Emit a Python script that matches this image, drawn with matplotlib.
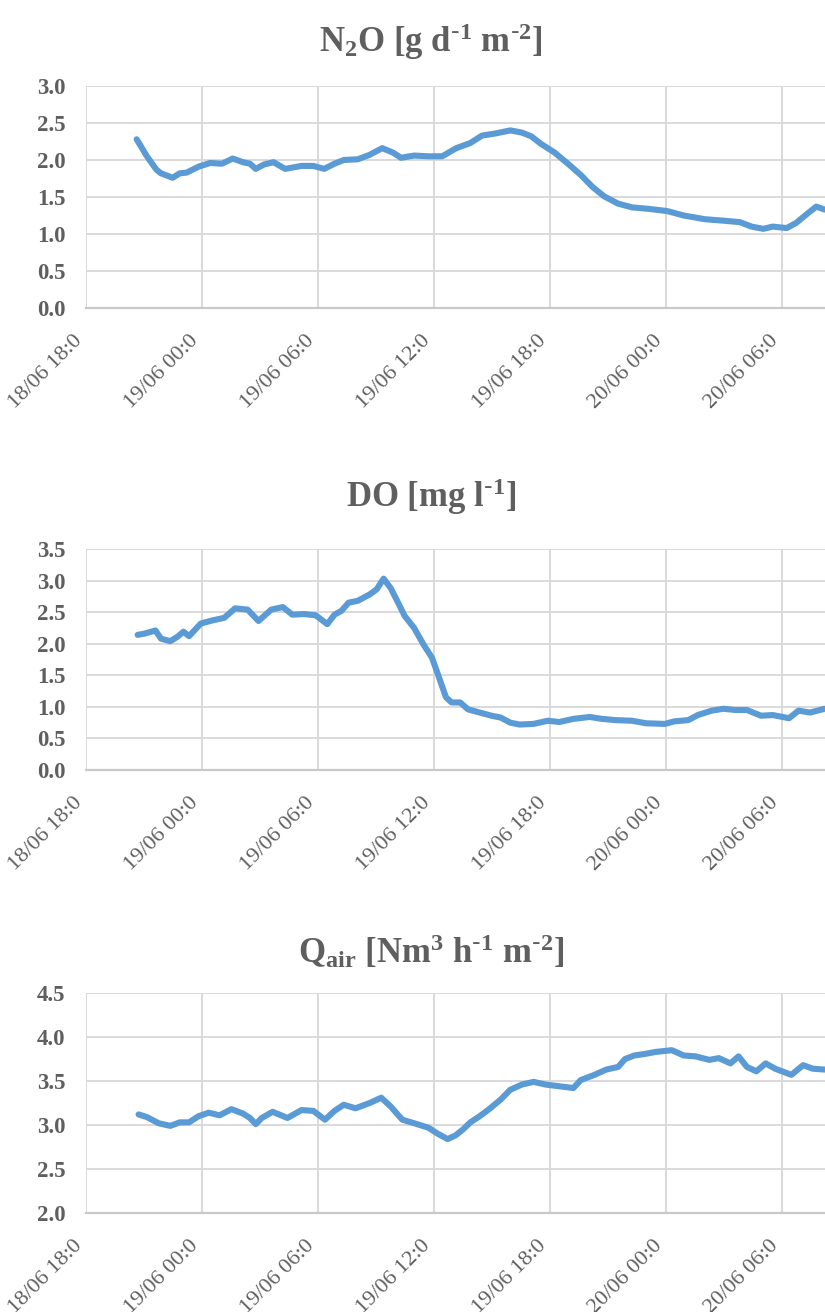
import numpy as np
import matplotlib
matplotlib.use("Agg")
import matplotlib.pyplot as plt

plt.rcParams["font.family"] = ["Liberation Serif", "DejaVu Serif"]
plt.rcParams["mathtext.default"] = "regular"

# hours after 18/06 18:00
x_labels = ["18/06 18:0", "19/06 00:0", "19/06 06:0", "19/06 12:0",
            "19/06 18:0", "20/06 00:0", "20/06 06:0"]

n2o_hours = [2.62, 3.15, 3.64, 3.88, 4.48, 4.85, 5.21, 5.82, 6.42, 7.03, 7.59, 8.12,
             8.48, 8.78, 9.21, 9.70, 10.30, 11.15, 11.76, 12.32, 12.85, 13.33, 14.06,
             14.67, 15.32, 15.88, 16.29, 16.97, 17.70, 18.42, 19.15, 19.88, 20.48,
             21.21, 21.94, 22.55, 23.03, 23.52, 24.24, 24.97, 25.58, 26.18, 26.79,
             27.52, 28.24, 29.09, 30.06, 30.91, 32.00, 32.97, 33.82, 34.42, 35.03,
             35.52, 36.24, 36.73, 37.33, 37.77, 38.20]
n2o_vals = [2.28, 2.05, 1.87, 1.82, 1.76, 1.82, 1.83, 1.91, 1.96, 1.95, 2.02, 1.97,
            1.95, 1.88, 1.94, 1.97, 1.88, 1.92, 1.92, 1.88, 1.95, 2.00, 2.01,
            2.07, 2.16, 2.10, 2.03, 2.06, 2.05, 2.05, 2.16, 2.23, 2.33,
            2.36, 2.40, 2.37, 2.32, 2.22, 2.10, 1.94, 1.80, 1.64, 1.51,
            1.41, 1.36, 1.34, 1.31, 1.25, 1.20, 1.18, 1.16, 1.10, 1.07,
            1.10, 1.08, 1.15, 1.28, 1.37, 1.33]

do_hours = [2.67, 3.03, 3.59, 3.88, 4.36, 4.73, 5.04, 5.33, 5.94, 6.55, 7.15, 7.71,
            8.36, 8.92, 9.58, 10.18, 10.67, 11.27, 11.88, 12.48, 12.85, 13.21, 13.58,
            14.06, 14.67, 15.03, 15.39, 15.76, 16.19, 16.48, 16.97, 17.45, 17.89,
            18.23, 18.62, 18.91, 19.35, 19.76, 20.36, 20.97, 21.45, 21.94, 22.42,
            23.15, 23.88, 24.48, 25.21, 26.06, 26.67, 27.39, 28.24, 28.97, 29.94,
            30.42, 31.15, 31.64, 32.36, 32.97, 33.58, 34.18, 34.91, 35.52, 36.36,
            36.85, 37.45, 38.20]
do_vals = [2.14, 2.16, 2.21, 2.08, 2.04, 2.11, 2.19, 2.12, 2.32, 2.37, 2.41, 2.56,
           2.54, 2.36, 2.54, 2.58, 2.46, 2.47, 2.45, 2.31, 2.46, 2.52, 2.65,
           2.68, 2.78, 2.86, 3.03, 2.88, 2.62, 2.44, 2.25, 1.99, 1.78,
           1.49, 1.15, 1.07, 1.07, 0.96, 0.91, 0.86, 0.83, 0.75, 0.72,
           0.73, 0.78, 0.76, 0.81, 0.84, 0.81, 0.79, 0.78, 0.74, 0.73,
           0.77, 0.79, 0.87, 0.94, 0.97, 0.95, 0.95, 0.86, 0.87, 0.82,
           0.94, 0.91, 0.97]

qair_hours = [2.72, 3.15, 3.76, 4.36, 4.85, 5.33, 5.82, 6.35, 6.91, 7.52, 8.12, 8.48,
              8.78, 9.09, 9.65, 10.42, 11.15, 11.76, 12.36, 12.85, 13.33, 13.94, 14.67,
              15.27, 15.76, 16.36, 16.97, 17.70, 18.20, 18.70, 19.10, 19.50, 19.88,
              20.36, 20.85, 21.45, 21.94, 22.55, 23.15, 23.76, 24.48, 25.21, 25.58,
              26.30, 26.91, 27.52, 27.88, 28.36, 28.97, 29.45, 30.30, 30.91, 31.52,
              32.24, 32.73, 33.33, 33.75, 34.18, 34.67, 35.15, 35.64, 36.48, 37.09,
              37.58, 38.20]
qair_vals = [3.12, 3.09, 3.02, 2.99, 3.03, 3.03, 3.10, 3.14, 3.11, 3.18, 3.13, 3.08,
             3.01, 3.08, 3.15, 3.08, 3.17, 3.16, 3.06, 3.16, 3.23, 3.19, 3.25,
             3.31, 3.21, 3.06, 3.02, 2.97, 2.90, 2.84, 2.88, 2.95, 3.03,
             3.10, 3.18, 3.29, 3.40, 3.46, 3.49, 3.46, 3.44, 3.42, 3.51,
             3.57, 3.63, 3.66, 3.75, 3.79, 3.81, 3.83, 3.85, 3.79, 3.78,
             3.74, 3.76, 3.70, 3.78, 3.66, 3.61, 3.70, 3.64, 3.57, 3.68,
             3.64, 3.63]

panels = [
    (r"N$_2$O [g d$^{\text{-}1}$ m$^{\text{-}2}$]", n2o_hours, n2o_vals, 0.0, 3.0),
    (r"DO [mg l$^{\text{-}1}$]", do_hours, do_vals, 0.0, 3.5),
    (r"Q$_{air}$ [Nm$^3$ h$^{\text{-}1}$ m$^{\text{-}2}$]", qair_hours, qair_vals, 2.0, 4.5),
]

W, H = 825, 1312
ax_boxes = [(86, 308), (549, 770), (993, 1213)]
title_y = [42, 497, 952]
text_grey = "#5f5f5f"

fig = plt.figure(figsize=(W / 100, H / 100), dpi=100)

for (title, hrs, vals, lo, hi), (t, b), ty in zip(panels, ax_boxes, title_y):
    ax = fig.add_axes([86 / W, 1 - b / H, 1 - 86 / W, (b - t) / H])
    ax.plot(hrs, vals, color="#5b9bd5", lw=4.4,
            solid_capstyle="round", solid_joinstyle="round", zorder=3)
    ax.set_xlim(0, 38.22)
    ax.set_ylim(lo, hi)
    ax.set_xticks(np.arange(0, 37, 6))
    ax.set_xticklabels(x_labels, rotation=45, ha="right",
                       fontsize=16, color=text_grey)
    yt = np.arange(lo, hi + 0.01, 0.5)
    ax.set_yticks(yt)
    ax.set_yticklabels([f"{v:.1f}" for v in yt], fontsize=16.5,
                       fontweight="bold", color=text_grey)
    ax.tick_params(axis="both", length=0)
    ax.tick_params(axis="x", pad=17)
    ax.tick_params(axis="y", pad=15)
    ax.grid(True, color="#d9d9d9", lw=1.4)
    for s in ["top", "right", "left"]:
        ax.spines[s].set_visible(False)
    ax.spines["bottom"].set_color("#c9c9c9")
    ax.spines["bottom"].set_linewidth(1.6)
    ax.set_axisbelow(True)
    fig.text(431 / W, 1 - ty / H, title, ha="center", va="center",
             fontsize=25, fontweight="bold", color=text_grey)

fig.savefig("out.png", dpi=100)
